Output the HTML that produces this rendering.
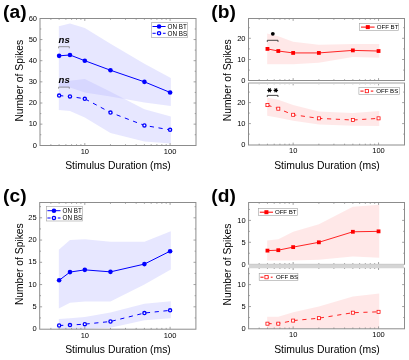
<!DOCTYPE html>
<html><head><meta charset="utf-8"><style>
html,body{margin:0;padding:0;background:#fff;}
svg{display:block;filter:blur(0.3px);font-family:"Liberation Sans", sans-serif;}
</style></head><body>
<svg width="409" height="360" viewBox="0 0 409 360">
<rect width="409" height="360" fill="#fff"/>
<polygon points="58.82,26.23 69.97,23.48 84.80,27.92 110.48,43.78 144.42,63.87 170.80,78.04 170.80,105.96 144.42,102.58 110.48,96.44 84.80,92.43 69.97,87.56 58.82,87.14" fill="#b7b7ff" fill-opacity="0.333" stroke="none"/>
<polygon points="58.82,81.85 69.97,80.79 84.80,79.10 110.48,91.79 144.42,109.34 170.80,116.54 170.80,143.40 144.42,141.49 110.48,133.03 84.80,117.38 69.97,111.04 58.82,109.98" fill="#b7b7ff" fill-opacity="0.333" stroke="none"/>
<polyline points="59.12,55.84 69.97,54.99 84.80,60.70 110.48,70.22 144.42,81.85 170.10,92.43" fill="none" stroke="#0000ff" stroke-width="1.0"/>
<polyline points="59.12,95.60 69.97,96.44 84.80,98.77 110.48,112.52 144.42,125.42 170.10,129.86" fill="none" stroke="#0000ff" stroke-width="1.0" stroke-dasharray="4.2,4.6"/>
<circle cx="59.12" cy="55.84" r="2.30" fill="#0000ff"/>
<circle cx="69.97" cy="54.99" r="2.30" fill="#0000ff"/>
<circle cx="84.80" cy="60.70" r="2.30" fill="#0000ff"/>
<circle cx="110.48" cy="70.22" r="2.30" fill="#0000ff"/>
<circle cx="144.42" cy="81.85" r="2.30" fill="#0000ff"/>
<circle cx="170.10" cy="92.43" r="2.30" fill="#0000ff"/>
<circle cx="59.12" cy="95.60" r="1.57" fill="#fff" stroke="#0000ff" stroke-width="1.35"/>
<circle cx="69.97" cy="96.44" r="1.57" fill="#fff" stroke="#0000ff" stroke-width="1.35"/>
<circle cx="84.80" cy="98.77" r="1.57" fill="#fff" stroke="#0000ff" stroke-width="1.35"/>
<circle cx="110.48" cy="112.52" r="1.57" fill="#fff" stroke="#0000ff" stroke-width="1.35"/>
<circle cx="144.42" cy="125.42" r="1.57" fill="#fff" stroke="#0000ff" stroke-width="1.35"/>
<circle cx="170.10" cy="129.86" r="1.57" fill="#fff" stroke="#0000ff" stroke-width="1.35"/>
<rect x="40.00" y="18.50" width="156.00" height="127.00" fill="none" stroke="#8c8c8c" stroke-width="1"/>
<line x1="84.80" y1="145.50" x2="84.80" y2="143.10" stroke="#8c8c8c" stroke-width="0.8"/>
<line x1="84.80" y1="18.50" x2="84.80" y2="20.90" stroke="#8c8c8c" stroke-width="0.8"/>
<line x1="170.10" y1="145.50" x2="170.10" y2="143.10" stroke="#8c8c8c" stroke-width="0.8"/>
<line x1="170.10" y1="18.50" x2="170.10" y2="20.90" stroke="#8c8c8c" stroke-width="0.8"/>
<line x1="50.86" y1="145.50" x2="50.86" y2="144.20" stroke="#8c8c8c" stroke-width="0.8"/>
<line x1="50.86" y1="18.50" x2="50.86" y2="19.80" stroke="#8c8c8c" stroke-width="0.8"/>
<line x1="59.12" y1="145.50" x2="59.12" y2="144.20" stroke="#8c8c8c" stroke-width="0.8"/>
<line x1="59.12" y1="18.50" x2="59.12" y2="19.80" stroke="#8c8c8c" stroke-width="0.8"/>
<line x1="65.88" y1="145.50" x2="65.88" y2="144.20" stroke="#8c8c8c" stroke-width="0.8"/>
<line x1="65.88" y1="18.50" x2="65.88" y2="19.80" stroke="#8c8c8c" stroke-width="0.8"/>
<line x1="71.59" y1="145.50" x2="71.59" y2="144.20" stroke="#8c8c8c" stroke-width="0.8"/>
<line x1="71.59" y1="18.50" x2="71.59" y2="19.80" stroke="#8c8c8c" stroke-width="0.8"/>
<line x1="76.54" y1="145.50" x2="76.54" y2="144.20" stroke="#8c8c8c" stroke-width="0.8"/>
<line x1="76.54" y1="18.50" x2="76.54" y2="19.80" stroke="#8c8c8c" stroke-width="0.8"/>
<line x1="80.90" y1="145.50" x2="80.90" y2="144.20" stroke="#8c8c8c" stroke-width="0.8"/>
<line x1="80.90" y1="18.50" x2="80.90" y2="19.80" stroke="#8c8c8c" stroke-width="0.8"/>
<line x1="110.48" y1="145.50" x2="110.48" y2="144.20" stroke="#8c8c8c" stroke-width="0.8"/>
<line x1="110.48" y1="18.50" x2="110.48" y2="19.80" stroke="#8c8c8c" stroke-width="0.8"/>
<line x1="125.50" y1="145.50" x2="125.50" y2="144.20" stroke="#8c8c8c" stroke-width="0.8"/>
<line x1="125.50" y1="18.50" x2="125.50" y2="19.80" stroke="#8c8c8c" stroke-width="0.8"/>
<line x1="136.16" y1="145.50" x2="136.16" y2="144.20" stroke="#8c8c8c" stroke-width="0.8"/>
<line x1="136.16" y1="18.50" x2="136.16" y2="19.80" stroke="#8c8c8c" stroke-width="0.8"/>
<line x1="144.42" y1="145.50" x2="144.42" y2="144.20" stroke="#8c8c8c" stroke-width="0.8"/>
<line x1="144.42" y1="18.50" x2="144.42" y2="19.80" stroke="#8c8c8c" stroke-width="0.8"/>
<line x1="151.18" y1="145.50" x2="151.18" y2="144.20" stroke="#8c8c8c" stroke-width="0.8"/>
<line x1="151.18" y1="18.50" x2="151.18" y2="19.80" stroke="#8c8c8c" stroke-width="0.8"/>
<line x1="156.89" y1="145.50" x2="156.89" y2="144.20" stroke="#8c8c8c" stroke-width="0.8"/>
<line x1="156.89" y1="18.50" x2="156.89" y2="19.80" stroke="#8c8c8c" stroke-width="0.8"/>
<line x1="161.84" y1="145.50" x2="161.84" y2="144.20" stroke="#8c8c8c" stroke-width="0.8"/>
<line x1="161.84" y1="18.50" x2="161.84" y2="19.80" stroke="#8c8c8c" stroke-width="0.8"/>
<line x1="166.20" y1="145.50" x2="166.20" y2="144.20" stroke="#8c8c8c" stroke-width="0.8"/>
<line x1="166.20" y1="18.50" x2="166.20" y2="19.80" stroke="#8c8c8c" stroke-width="0.8"/>
<line x1="40.00" y1="124.15" x2="42.40" y2="124.15" stroke="#8c8c8c" stroke-width="0.8"/>
<line x1="196.00" y1="124.15" x2="193.60" y2="124.15" stroke="#8c8c8c" stroke-width="0.8"/>
<line x1="40.00" y1="103.00" x2="42.40" y2="103.00" stroke="#8c8c8c" stroke-width="0.8"/>
<line x1="196.00" y1="103.00" x2="193.60" y2="103.00" stroke="#8c8c8c" stroke-width="0.8"/>
<line x1="40.00" y1="81.85" x2="42.40" y2="81.85" stroke="#8c8c8c" stroke-width="0.8"/>
<line x1="196.00" y1="81.85" x2="193.60" y2="81.85" stroke="#8c8c8c" stroke-width="0.8"/>
<line x1="40.00" y1="60.70" x2="42.40" y2="60.70" stroke="#8c8c8c" stroke-width="0.8"/>
<line x1="196.00" y1="60.70" x2="193.60" y2="60.70" stroke="#8c8c8c" stroke-width="0.8"/>
<line x1="40.00" y1="39.55" x2="42.40" y2="39.55" stroke="#8c8c8c" stroke-width="0.8"/>
<line x1="196.00" y1="39.55" x2="193.60" y2="39.55" stroke="#8c8c8c" stroke-width="0.8"/>
<line x1="40.00" y1="134.73" x2="41.30" y2="134.73" stroke="#8c8c8c" stroke-width="0.8"/>
<line x1="196.00" y1="134.73" x2="194.70" y2="134.73" stroke="#8c8c8c" stroke-width="0.8"/>
<line x1="40.00" y1="113.58" x2="41.30" y2="113.58" stroke="#8c8c8c" stroke-width="0.8"/>
<line x1="196.00" y1="113.58" x2="194.70" y2="113.58" stroke="#8c8c8c" stroke-width="0.8"/>
<line x1="40.00" y1="92.43" x2="41.30" y2="92.43" stroke="#8c8c8c" stroke-width="0.8"/>
<line x1="196.00" y1="92.43" x2="194.70" y2="92.43" stroke="#8c8c8c" stroke-width="0.8"/>
<line x1="40.00" y1="71.28" x2="41.30" y2="71.28" stroke="#8c8c8c" stroke-width="0.8"/>
<line x1="196.00" y1="71.28" x2="194.70" y2="71.28" stroke="#8c8c8c" stroke-width="0.8"/>
<line x1="40.00" y1="50.12" x2="41.30" y2="50.12" stroke="#8c8c8c" stroke-width="0.8"/>
<line x1="196.00" y1="50.12" x2="194.70" y2="50.12" stroke="#8c8c8c" stroke-width="0.8"/>
<line x1="40.00" y1="28.97" x2="41.30" y2="28.97" stroke="#8c8c8c" stroke-width="0.8"/>
<line x1="196.00" y1="28.97" x2="194.70" y2="28.97" stroke="#8c8c8c" stroke-width="0.8"/>
<text x="37.00" y="147.60" font-size="7.5" text-anchor="end" fill="#000">0</text>
<text x="37.00" y="126.45" font-size="7.5" text-anchor="end" fill="#000">10</text>
<text x="37.00" y="105.30" font-size="7.5" text-anchor="end" fill="#000">20</text>
<text x="37.00" y="84.15" font-size="7.5" text-anchor="end" fill="#000">30</text>
<text x="37.00" y="63.00" font-size="7.5" text-anchor="end" fill="#000">40</text>
<text x="37.00" y="41.85" font-size="7.5" text-anchor="end" fill="#000">50</text>
<text x="37.00" y="20.70" font-size="7.5" text-anchor="end" fill="#000">60</text>
<text x="84.80" y="153.70" font-size="7.5" text-anchor="middle" fill="#000">10</text>
<text x="170.10" y="153.70" font-size="7.5" text-anchor="middle" fill="#000">100</text>
<rect x="151.50" y="22.70" width="36.20" height="14.70" fill="#fff" stroke="#a0a0a0" stroke-width="0.6"/>
<line x1="152.50" y1="26.50" x2="165.60" y2="26.50" stroke="#0000ff" stroke-width="1"/>
<circle cx="159.05" cy="26.50" r="2.30" fill="#0000ff"/>
<text x="167.60" y="28.75" font-size="6.3" fill="#000">ON BT</text>
<line x1="152.50" y1="33.30" x2="165.60" y2="33.30" stroke="#0000ff" stroke-width="1" stroke-dasharray="3.2,2.0"/>
<circle cx="159.05" cy="33.30" r="1.62" fill="#fff" stroke="#0000ff" stroke-width="1.35"/>
<text x="167.60" y="35.55" font-size="6.3" fill="#000">ON BS</text>
<text x="58.6" y="42.8" font-size="9.6" font-weight="bold" font-style="italic" fill="#000">ns</text>
<path d="M58.60,48.30 L58.60,46.70 L69.30,46.70 L69.30,48.30" fill="none" stroke="#7a7a7a" stroke-width="0.75"/>
<text x="58.6" y="83.2" font-size="9.6" font-weight="bold" font-style="italic" fill="#000">ns</text>
<path d="M58.60,88.70 L58.60,87.10 L69.30,87.10 L69.30,88.70" fill="none" stroke="#7a7a7a" stroke-width="0.75"/>
<text x="118.00" y="168.70" font-size="10.4" text-anchor="middle" fill="#000">Stimulus Duration (ms)</text>
<text transform="translate(22.60,80.70) rotate(-90)" font-size="10.3" text-anchor="middle" fill="#000">Number of Spikes</text>
<text x="3.10" y="18.30" font-size="19.2" font-weight="bold" fill="#000">(a)</text>
<polygon points="267.15,33.42 278.30,36.18 293.15,41.69 318.86,44.66 352.85,44.02 379.25,44.02 379.25,57.80 352.85,56.96 318.86,62.68 293.15,64.16 278.30,64.16 267.15,64.16" fill="#ff0000" fill-opacity="0.092" stroke="none"/>
<polyline points="267.45,48.90 278.30,51.02 293.15,52.93 318.86,52.93 352.85,50.38 378.55,51.02" fill="none" stroke="#ff0000" stroke-width="0.85"/>
<rect x="265.55" y="47.00" width="3.80" height="3.80" fill="#ff0000"/>
<rect x="276.40" y="49.12" width="3.80" height="3.80" fill="#ff0000"/>
<rect x="291.25" y="51.03" width="3.80" height="3.80" fill="#ff0000"/>
<rect x="316.96" y="51.03" width="3.80" height="3.80" fill="#ff0000"/>
<rect x="350.95" y="48.48" width="3.80" height="3.80" fill="#ff0000"/>
<rect x="376.65" y="49.12" width="3.80" height="3.80" fill="#ff0000"/>
<rect x="248.50" y="18.50" width="156.00" height="62.00" fill="none" stroke="#8c8c8c" stroke-width="1"/>
<line x1="293.15" y1="80.50" x2="293.15" y2="78.10" stroke="#8c8c8c" stroke-width="0.8"/>
<line x1="293.15" y1="18.50" x2="293.15" y2="20.90" stroke="#8c8c8c" stroke-width="0.8"/>
<line x1="378.55" y1="80.50" x2="378.55" y2="78.10" stroke="#8c8c8c" stroke-width="0.8"/>
<line x1="378.55" y1="18.50" x2="378.55" y2="20.90" stroke="#8c8c8c" stroke-width="0.8"/>
<line x1="259.17" y1="80.50" x2="259.17" y2="79.20" stroke="#8c8c8c" stroke-width="0.8"/>
<line x1="259.17" y1="18.50" x2="259.17" y2="19.80" stroke="#8c8c8c" stroke-width="0.8"/>
<line x1="267.45" y1="80.50" x2="267.45" y2="79.20" stroke="#8c8c8c" stroke-width="0.8"/>
<line x1="267.45" y1="18.50" x2="267.45" y2="19.80" stroke="#8c8c8c" stroke-width="0.8"/>
<line x1="274.21" y1="80.50" x2="274.21" y2="79.20" stroke="#8c8c8c" stroke-width="0.8"/>
<line x1="274.21" y1="18.50" x2="274.21" y2="19.80" stroke="#8c8c8c" stroke-width="0.8"/>
<line x1="279.93" y1="80.50" x2="279.93" y2="79.20" stroke="#8c8c8c" stroke-width="0.8"/>
<line x1="279.93" y1="18.50" x2="279.93" y2="19.80" stroke="#8c8c8c" stroke-width="0.8"/>
<line x1="284.88" y1="80.50" x2="284.88" y2="79.20" stroke="#8c8c8c" stroke-width="0.8"/>
<line x1="284.88" y1="18.50" x2="284.88" y2="19.80" stroke="#8c8c8c" stroke-width="0.8"/>
<line x1="289.25" y1="80.50" x2="289.25" y2="79.20" stroke="#8c8c8c" stroke-width="0.8"/>
<line x1="289.25" y1="18.50" x2="289.25" y2="19.80" stroke="#8c8c8c" stroke-width="0.8"/>
<line x1="318.86" y1="80.50" x2="318.86" y2="79.20" stroke="#8c8c8c" stroke-width="0.8"/>
<line x1="318.86" y1="18.50" x2="318.86" y2="19.80" stroke="#8c8c8c" stroke-width="0.8"/>
<line x1="333.90" y1="80.50" x2="333.90" y2="79.20" stroke="#8c8c8c" stroke-width="0.8"/>
<line x1="333.90" y1="18.50" x2="333.90" y2="19.80" stroke="#8c8c8c" stroke-width="0.8"/>
<line x1="344.57" y1="80.50" x2="344.57" y2="79.20" stroke="#8c8c8c" stroke-width="0.8"/>
<line x1="344.57" y1="18.50" x2="344.57" y2="19.80" stroke="#8c8c8c" stroke-width="0.8"/>
<line x1="352.85" y1="80.50" x2="352.85" y2="79.20" stroke="#8c8c8c" stroke-width="0.8"/>
<line x1="352.85" y1="18.50" x2="352.85" y2="19.80" stroke="#8c8c8c" stroke-width="0.8"/>
<line x1="359.61" y1="80.50" x2="359.61" y2="79.20" stroke="#8c8c8c" stroke-width="0.8"/>
<line x1="359.61" y1="18.50" x2="359.61" y2="19.80" stroke="#8c8c8c" stroke-width="0.8"/>
<line x1="365.33" y1="80.50" x2="365.33" y2="79.20" stroke="#8c8c8c" stroke-width="0.8"/>
<line x1="365.33" y1="18.50" x2="365.33" y2="19.80" stroke="#8c8c8c" stroke-width="0.8"/>
<line x1="370.28" y1="80.50" x2="370.28" y2="79.20" stroke="#8c8c8c" stroke-width="0.8"/>
<line x1="370.28" y1="18.50" x2="370.28" y2="19.80" stroke="#8c8c8c" stroke-width="0.8"/>
<line x1="374.65" y1="80.50" x2="374.65" y2="79.20" stroke="#8c8c8c" stroke-width="0.8"/>
<line x1="374.65" y1="18.50" x2="374.65" y2="19.80" stroke="#8c8c8c" stroke-width="0.8"/>
<line x1="248.50" y1="59.50" x2="250.90" y2="59.50" stroke="#8c8c8c" stroke-width="0.8"/>
<line x1="404.50" y1="59.50" x2="402.10" y2="59.50" stroke="#8c8c8c" stroke-width="0.8"/>
<line x1="248.50" y1="38.30" x2="250.90" y2="38.30" stroke="#8c8c8c" stroke-width="0.8"/>
<line x1="404.50" y1="38.30" x2="402.10" y2="38.30" stroke="#8c8c8c" stroke-width="0.8"/>
<line x1="248.50" y1="70.10" x2="249.80" y2="70.10" stroke="#8c8c8c" stroke-width="0.8"/>
<line x1="404.50" y1="70.10" x2="403.20" y2="70.10" stroke="#8c8c8c" stroke-width="0.8"/>
<line x1="248.50" y1="48.90" x2="249.80" y2="48.90" stroke="#8c8c8c" stroke-width="0.8"/>
<line x1="404.50" y1="48.90" x2="403.20" y2="48.90" stroke="#8c8c8c" stroke-width="0.8"/>
<line x1="248.50" y1="27.70" x2="249.80" y2="27.70" stroke="#8c8c8c" stroke-width="0.8"/>
<line x1="404.50" y1="27.70" x2="403.20" y2="27.70" stroke="#8c8c8c" stroke-width="0.8"/>
<text x="245.50" y="83.15" font-size="7.5" text-anchor="end" fill="#000">0</text>
<text x="245.50" y="61.95" font-size="7.5" text-anchor="end" fill="#000">10</text>
<text x="245.50" y="40.75" font-size="7.5" text-anchor="end" fill="#000">20</text>
<polygon points="267.15,97.56 278.30,99.87 293.15,104.91 318.86,111.42 352.85,113.10 379.25,111.00 379.25,125.91 352.85,125.70 318.86,124.44 293.15,120.66 278.30,117.72 267.15,115.83" fill="#ff0000" fill-opacity="0.092" stroke="none"/>
<polyline points="267.45,105.12 278.30,108.69 293.15,114.78 318.86,118.35 352.85,120.03 378.55,118.35" fill="none" stroke="#ff0000" stroke-width="0.85" stroke-dasharray="4.2,4.6"/>
<rect x="265.92" y="103.59" width="3.05" height="3.05" fill="#fff" stroke="#ff0000" stroke-width="0.75"/>
<rect x="276.78" y="107.16" width="3.05" height="3.05" fill="#fff" stroke="#ff0000" stroke-width="0.75"/>
<rect x="291.63" y="113.25" width="3.05" height="3.05" fill="#fff" stroke="#ff0000" stroke-width="0.75"/>
<rect x="317.34" y="116.82" width="3.05" height="3.05" fill="#fff" stroke="#ff0000" stroke-width="0.75"/>
<rect x="351.32" y="118.50" width="3.05" height="3.05" fill="#fff" stroke="#ff0000" stroke-width="0.75"/>
<rect x="377.03" y="116.82" width="3.05" height="3.05" fill="#fff" stroke="#ff0000" stroke-width="0.75"/>
<rect x="248.50" y="83.00" width="156.00" height="62.00" fill="none" stroke="#8c8c8c" stroke-width="1"/>
<line x1="293.15" y1="145.00" x2="293.15" y2="142.60" stroke="#8c8c8c" stroke-width="0.8"/>
<line x1="293.15" y1="83.00" x2="293.15" y2="85.40" stroke="#8c8c8c" stroke-width="0.8"/>
<line x1="378.55" y1="145.00" x2="378.55" y2="142.60" stroke="#8c8c8c" stroke-width="0.8"/>
<line x1="378.55" y1="83.00" x2="378.55" y2="85.40" stroke="#8c8c8c" stroke-width="0.8"/>
<line x1="259.17" y1="145.00" x2="259.17" y2="143.70" stroke="#8c8c8c" stroke-width="0.8"/>
<line x1="259.17" y1="83.00" x2="259.17" y2="84.30" stroke="#8c8c8c" stroke-width="0.8"/>
<line x1="267.45" y1="145.00" x2="267.45" y2="143.70" stroke="#8c8c8c" stroke-width="0.8"/>
<line x1="267.45" y1="83.00" x2="267.45" y2="84.30" stroke="#8c8c8c" stroke-width="0.8"/>
<line x1="274.21" y1="145.00" x2="274.21" y2="143.70" stroke="#8c8c8c" stroke-width="0.8"/>
<line x1="274.21" y1="83.00" x2="274.21" y2="84.30" stroke="#8c8c8c" stroke-width="0.8"/>
<line x1="279.93" y1="145.00" x2="279.93" y2="143.70" stroke="#8c8c8c" stroke-width="0.8"/>
<line x1="279.93" y1="83.00" x2="279.93" y2="84.30" stroke="#8c8c8c" stroke-width="0.8"/>
<line x1="284.88" y1="145.00" x2="284.88" y2="143.70" stroke="#8c8c8c" stroke-width="0.8"/>
<line x1="284.88" y1="83.00" x2="284.88" y2="84.30" stroke="#8c8c8c" stroke-width="0.8"/>
<line x1="289.25" y1="145.00" x2="289.25" y2="143.70" stroke="#8c8c8c" stroke-width="0.8"/>
<line x1="289.25" y1="83.00" x2="289.25" y2="84.30" stroke="#8c8c8c" stroke-width="0.8"/>
<line x1="318.86" y1="145.00" x2="318.86" y2="143.70" stroke="#8c8c8c" stroke-width="0.8"/>
<line x1="318.86" y1="83.00" x2="318.86" y2="84.30" stroke="#8c8c8c" stroke-width="0.8"/>
<line x1="333.90" y1="145.00" x2="333.90" y2="143.70" stroke="#8c8c8c" stroke-width="0.8"/>
<line x1="333.90" y1="83.00" x2="333.90" y2="84.30" stroke="#8c8c8c" stroke-width="0.8"/>
<line x1="344.57" y1="145.00" x2="344.57" y2="143.70" stroke="#8c8c8c" stroke-width="0.8"/>
<line x1="344.57" y1="83.00" x2="344.57" y2="84.30" stroke="#8c8c8c" stroke-width="0.8"/>
<line x1="352.85" y1="145.00" x2="352.85" y2="143.70" stroke="#8c8c8c" stroke-width="0.8"/>
<line x1="352.85" y1="83.00" x2="352.85" y2="84.30" stroke="#8c8c8c" stroke-width="0.8"/>
<line x1="359.61" y1="145.00" x2="359.61" y2="143.70" stroke="#8c8c8c" stroke-width="0.8"/>
<line x1="359.61" y1="83.00" x2="359.61" y2="84.30" stroke="#8c8c8c" stroke-width="0.8"/>
<line x1="365.33" y1="145.00" x2="365.33" y2="143.70" stroke="#8c8c8c" stroke-width="0.8"/>
<line x1="365.33" y1="83.00" x2="365.33" y2="84.30" stroke="#8c8c8c" stroke-width="0.8"/>
<line x1="370.28" y1="145.00" x2="370.28" y2="143.70" stroke="#8c8c8c" stroke-width="0.8"/>
<line x1="370.28" y1="83.00" x2="370.28" y2="84.30" stroke="#8c8c8c" stroke-width="0.8"/>
<line x1="374.65" y1="145.00" x2="374.65" y2="143.70" stroke="#8c8c8c" stroke-width="0.8"/>
<line x1="374.65" y1="83.00" x2="374.65" y2="84.30" stroke="#8c8c8c" stroke-width="0.8"/>
<line x1="248.50" y1="123.60" x2="250.90" y2="123.60" stroke="#8c8c8c" stroke-width="0.8"/>
<line x1="404.50" y1="123.60" x2="402.10" y2="123.60" stroke="#8c8c8c" stroke-width="0.8"/>
<line x1="248.50" y1="102.60" x2="250.90" y2="102.60" stroke="#8c8c8c" stroke-width="0.8"/>
<line x1="404.50" y1="102.60" x2="402.10" y2="102.60" stroke="#8c8c8c" stroke-width="0.8"/>
<line x1="248.50" y1="134.10" x2="249.80" y2="134.10" stroke="#8c8c8c" stroke-width="0.8"/>
<line x1="404.50" y1="134.10" x2="403.20" y2="134.10" stroke="#8c8c8c" stroke-width="0.8"/>
<line x1="248.50" y1="113.10" x2="249.80" y2="113.10" stroke="#8c8c8c" stroke-width="0.8"/>
<line x1="404.50" y1="113.10" x2="403.20" y2="113.10" stroke="#8c8c8c" stroke-width="0.8"/>
<line x1="248.50" y1="92.10" x2="249.80" y2="92.10" stroke="#8c8c8c" stroke-width="0.8"/>
<line x1="404.50" y1="92.10" x2="403.20" y2="92.10" stroke="#8c8c8c" stroke-width="0.8"/>
<text x="245.50" y="147.05" font-size="7.5" text-anchor="end" fill="#000">0</text>
<text x="245.50" y="126.05" font-size="7.5" text-anchor="end" fill="#000">10</text>
<text x="245.50" y="105.05" font-size="7.5" text-anchor="end" fill="#000">20</text>
<text x="293.15" y="153.45" font-size="7.5" text-anchor="middle" fill="#000">10</text>
<text x="378.55" y="153.45" font-size="7.5" text-anchor="middle" fill="#000">100</text>
<rect x="247.5" y="81.2" width="158" height="1.0" fill="#fff"/>
<rect x="248.9" y="82.0" width="155.2" height="2.0" fill="#cfcfcf"/>
<rect x="359.40" y="23.60" width="39.30" height="6.90" fill="#fff" stroke="#a0a0a0" stroke-width="0.6"/>
<line x1="361.00" y1="27.10" x2="374.60" y2="27.10" stroke="#ff0000" stroke-width="1"/>
<rect x="365.80" y="25.10" width="4.00" height="4.00" fill="#ff0000"/>
<text x="376.70" y="29.35" font-size="6.1" fill="#000">OFF BT</text>
<rect x="358.90" y="87.60" width="40.50" height="6.90" fill="#fff" stroke="#a0a0a0" stroke-width="0.6"/>
<line x1="360.40" y1="91.10" x2="373.30" y2="91.10" stroke="#ff0000" stroke-width="1" stroke-dasharray="3.2,2.0"/>
<rect x="365.22" y="89.47" width="3.25" height="3.25" fill="#fff" stroke="#ff0000" stroke-width="0.75"/>
<text x="376.20" y="93.35" font-size="6.1" fill="#000">OFF BS</text>
<circle cx="272.8" cy="33.8" r="1.9" fill="#000"/>
<path d="M267.30,41.90 L267.30,40.30 L278.00,40.30 L278.00,41.90" fill="none" stroke="#333333" stroke-width="0.9"/>
<path d="M267.75,90.30 L271.25,90.30 M268.62,88.78 L270.38,91.82 M270.38,88.78 L268.62,91.82" stroke="#000" stroke-width="1.2" stroke-linecap="round" fill="none"/>
<path d="M274.05,90.30 L277.55,90.30 M274.93,88.78 L276.68,91.82 M276.68,88.78 L274.93,91.82" stroke="#000" stroke-width="1.2" stroke-linecap="round" fill="none"/>
<path d="M267.30,97.00 L267.30,95.40 L278.00,95.40 L278.00,97.00" fill="none" stroke="#333333" stroke-width="0.9"/>
<text x="327.00" y="168.70" font-size="10.4" text-anchor="middle" fill="#000">Stimulus Duration (ms)</text>
<text transform="translate(231.10,80.30) rotate(-90)" font-size="10.3" text-anchor="middle" fill="#000">Number of Spikes</text>
<text x="211.30" y="18.30" font-size="19.2" font-weight="bold" fill="#000">(b)</text>
<polygon points="58.82,249.84 69.97,240.05 84.80,239.16 110.48,241.83 144.42,241.83 170.80,231.15 170.80,269.42 144.42,284.55 110.48,301.46 84.80,301.46 69.97,302.80 58.82,308.58" fill="#b7b7ff" fill-opacity="0.333" stroke="none"/>
<polygon points="58.82,319.04 69.97,318.15 84.80,317.04 110.48,312.59 144.42,303.69 170.80,301.24 170.80,318.37 144.42,320.15 110.48,327.72 84.80,329.05 69.97,329.05 58.82,329.05" fill="#b7b7ff" fill-opacity="0.333" stroke="none"/>
<polyline points="59.12,280.32 69.97,272.09 84.80,269.87 110.48,271.87 144.42,264.08 170.10,251.18" fill="none" stroke="#0000ff" stroke-width="1.0"/>
<polyline points="59.12,325.49 69.97,325.05 84.80,324.16 110.48,321.49 144.42,313.03 170.10,310.36" fill="none" stroke="#0000ff" stroke-width="1.0" stroke-dasharray="4.2,4.6"/>
<circle cx="59.12" cy="280.32" r="2.30" fill="#0000ff"/>
<circle cx="69.97" cy="272.09" r="2.30" fill="#0000ff"/>
<circle cx="84.80" cy="269.87" r="2.30" fill="#0000ff"/>
<circle cx="110.48" cy="271.87" r="2.30" fill="#0000ff"/>
<circle cx="144.42" cy="264.08" r="2.30" fill="#0000ff"/>
<circle cx="170.10" cy="251.18" r="2.30" fill="#0000ff"/>
<circle cx="59.12" cy="325.49" r="1.57" fill="#fff" stroke="#0000ff" stroke-width="1.35"/>
<circle cx="69.97" cy="325.05" r="1.57" fill="#fff" stroke="#0000ff" stroke-width="1.35"/>
<circle cx="84.80" cy="324.16" r="1.57" fill="#fff" stroke="#0000ff" stroke-width="1.35"/>
<circle cx="110.48" cy="321.49" r="1.57" fill="#fff" stroke="#0000ff" stroke-width="1.35"/>
<circle cx="144.42" cy="313.03" r="1.57" fill="#fff" stroke="#0000ff" stroke-width="1.35"/>
<circle cx="170.10" cy="310.36" r="1.57" fill="#fff" stroke="#0000ff" stroke-width="1.35"/>
<rect x="39.70" y="202.50" width="156.20" height="126.70" fill="none" stroke="#8c8c8c" stroke-width="1"/>
<line x1="84.80" y1="329.20" x2="84.80" y2="326.80" stroke="#8c8c8c" stroke-width="0.8"/>
<line x1="84.80" y1="202.50" x2="84.80" y2="204.90" stroke="#8c8c8c" stroke-width="0.8"/>
<line x1="170.10" y1="329.20" x2="170.10" y2="326.80" stroke="#8c8c8c" stroke-width="0.8"/>
<line x1="170.10" y1="202.50" x2="170.10" y2="204.90" stroke="#8c8c8c" stroke-width="0.8"/>
<line x1="50.86" y1="329.20" x2="50.86" y2="327.90" stroke="#8c8c8c" stroke-width="0.8"/>
<line x1="50.86" y1="202.50" x2="50.86" y2="203.80" stroke="#8c8c8c" stroke-width="0.8"/>
<line x1="59.12" y1="329.20" x2="59.12" y2="327.90" stroke="#8c8c8c" stroke-width="0.8"/>
<line x1="59.12" y1="202.50" x2="59.12" y2="203.80" stroke="#8c8c8c" stroke-width="0.8"/>
<line x1="65.88" y1="329.20" x2="65.88" y2="327.90" stroke="#8c8c8c" stroke-width="0.8"/>
<line x1="65.88" y1="202.50" x2="65.88" y2="203.80" stroke="#8c8c8c" stroke-width="0.8"/>
<line x1="71.59" y1="329.20" x2="71.59" y2="327.90" stroke="#8c8c8c" stroke-width="0.8"/>
<line x1="71.59" y1="202.50" x2="71.59" y2="203.80" stroke="#8c8c8c" stroke-width="0.8"/>
<line x1="76.54" y1="329.20" x2="76.54" y2="327.90" stroke="#8c8c8c" stroke-width="0.8"/>
<line x1="76.54" y1="202.50" x2="76.54" y2="203.80" stroke="#8c8c8c" stroke-width="0.8"/>
<line x1="80.90" y1="329.20" x2="80.90" y2="327.90" stroke="#8c8c8c" stroke-width="0.8"/>
<line x1="80.90" y1="202.50" x2="80.90" y2="203.80" stroke="#8c8c8c" stroke-width="0.8"/>
<line x1="110.48" y1="329.20" x2="110.48" y2="327.90" stroke="#8c8c8c" stroke-width="0.8"/>
<line x1="110.48" y1="202.50" x2="110.48" y2="203.80" stroke="#8c8c8c" stroke-width="0.8"/>
<line x1="125.50" y1="329.20" x2="125.50" y2="327.90" stroke="#8c8c8c" stroke-width="0.8"/>
<line x1="125.50" y1="202.50" x2="125.50" y2="203.80" stroke="#8c8c8c" stroke-width="0.8"/>
<line x1="136.16" y1="329.20" x2="136.16" y2="327.90" stroke="#8c8c8c" stroke-width="0.8"/>
<line x1="136.16" y1="202.50" x2="136.16" y2="203.80" stroke="#8c8c8c" stroke-width="0.8"/>
<line x1="144.42" y1="329.20" x2="144.42" y2="327.90" stroke="#8c8c8c" stroke-width="0.8"/>
<line x1="144.42" y1="202.50" x2="144.42" y2="203.80" stroke="#8c8c8c" stroke-width="0.8"/>
<line x1="151.18" y1="329.20" x2="151.18" y2="327.90" stroke="#8c8c8c" stroke-width="0.8"/>
<line x1="151.18" y1="202.50" x2="151.18" y2="203.80" stroke="#8c8c8c" stroke-width="0.8"/>
<line x1="156.89" y1="329.20" x2="156.89" y2="327.90" stroke="#8c8c8c" stroke-width="0.8"/>
<line x1="156.89" y1="202.50" x2="156.89" y2="203.80" stroke="#8c8c8c" stroke-width="0.8"/>
<line x1="161.84" y1="329.20" x2="161.84" y2="327.90" stroke="#8c8c8c" stroke-width="0.8"/>
<line x1="161.84" y1="202.50" x2="161.84" y2="203.80" stroke="#8c8c8c" stroke-width="0.8"/>
<line x1="166.20" y1="329.20" x2="166.20" y2="327.90" stroke="#8c8c8c" stroke-width="0.8"/>
<line x1="166.20" y1="202.50" x2="166.20" y2="203.80" stroke="#8c8c8c" stroke-width="0.8"/>
<line x1="39.70" y1="306.80" x2="42.10" y2="306.80" stroke="#8c8c8c" stroke-width="0.8"/>
<line x1="195.90" y1="306.80" x2="193.50" y2="306.80" stroke="#8c8c8c" stroke-width="0.8"/>
<line x1="39.70" y1="284.55" x2="42.10" y2="284.55" stroke="#8c8c8c" stroke-width="0.8"/>
<line x1="195.90" y1="284.55" x2="193.50" y2="284.55" stroke="#8c8c8c" stroke-width="0.8"/>
<line x1="39.70" y1="262.30" x2="42.10" y2="262.30" stroke="#8c8c8c" stroke-width="0.8"/>
<line x1="195.90" y1="262.30" x2="193.50" y2="262.30" stroke="#8c8c8c" stroke-width="0.8"/>
<line x1="39.70" y1="240.05" x2="42.10" y2="240.05" stroke="#8c8c8c" stroke-width="0.8"/>
<line x1="195.90" y1="240.05" x2="193.50" y2="240.05" stroke="#8c8c8c" stroke-width="0.8"/>
<line x1="39.70" y1="217.80" x2="42.10" y2="217.80" stroke="#8c8c8c" stroke-width="0.8"/>
<line x1="195.90" y1="217.80" x2="193.50" y2="217.80" stroke="#8c8c8c" stroke-width="0.8"/>
<line x1="39.70" y1="317.93" x2="41.00" y2="317.93" stroke="#8c8c8c" stroke-width="0.8"/>
<line x1="195.90" y1="317.93" x2="194.60" y2="317.93" stroke="#8c8c8c" stroke-width="0.8"/>
<line x1="39.70" y1="295.68" x2="41.00" y2="295.68" stroke="#8c8c8c" stroke-width="0.8"/>
<line x1="195.90" y1="295.68" x2="194.60" y2="295.68" stroke="#8c8c8c" stroke-width="0.8"/>
<line x1="39.70" y1="273.43" x2="41.00" y2="273.43" stroke="#8c8c8c" stroke-width="0.8"/>
<line x1="195.90" y1="273.43" x2="194.60" y2="273.43" stroke="#8c8c8c" stroke-width="0.8"/>
<line x1="39.70" y1="251.18" x2="41.00" y2="251.18" stroke="#8c8c8c" stroke-width="0.8"/>
<line x1="195.90" y1="251.18" x2="194.60" y2="251.18" stroke="#8c8c8c" stroke-width="0.8"/>
<line x1="39.70" y1="228.93" x2="41.00" y2="228.93" stroke="#8c8c8c" stroke-width="0.8"/>
<line x1="195.90" y1="228.93" x2="194.60" y2="228.93" stroke="#8c8c8c" stroke-width="0.8"/>
<line x1="39.70" y1="206.68" x2="41.00" y2="206.68" stroke="#8c8c8c" stroke-width="0.8"/>
<line x1="195.90" y1="206.68" x2="194.60" y2="206.68" stroke="#8c8c8c" stroke-width="0.8"/>
<text x="36.70" y="331.05" font-size="7.5" text-anchor="end" fill="#000">0</text>
<text x="36.70" y="308.80" font-size="7.5" text-anchor="end" fill="#000">5</text>
<text x="36.70" y="286.55" font-size="7.5" text-anchor="end" fill="#000">10</text>
<text x="36.70" y="264.30" font-size="7.5" text-anchor="end" fill="#000">15</text>
<text x="36.70" y="242.05" font-size="7.5" text-anchor="end" fill="#000">20</text>
<text x="36.70" y="219.80" font-size="7.5" text-anchor="end" fill="#000">25</text>
<text x="84.80" y="337.60" font-size="7.5" text-anchor="middle" fill="#000">10</text>
<text x="170.10" y="337.60" font-size="7.5" text-anchor="middle" fill="#000">100</text>
<rect x="46.40" y="206.40" width="36.10" height="14.60" fill="#fff" stroke="#a0a0a0" stroke-width="0.6"/>
<line x1="47.40" y1="210.70" x2="60.50" y2="210.70" stroke="#0000ff" stroke-width="1"/>
<circle cx="53.95" cy="210.70" r="2.30" fill="#0000ff"/>
<text x="62.50" y="212.95" font-size="6.3" fill="#000">ON BT</text>
<line x1="47.40" y1="218.00" x2="60.50" y2="218.00" stroke="#0000ff" stroke-width="1" stroke-dasharray="3.2,2.0"/>
<circle cx="53.95" cy="218.00" r="1.62" fill="#fff" stroke="#0000ff" stroke-width="1.35"/>
<text x="62.50" y="220.25" font-size="6.3" fill="#000">ON BS</text>
<text x="118.00" y="352.60" font-size="10.4" text-anchor="middle" fill="#000">Stimulus Duration (ms)</text>
<text transform="translate(22.70,264.20) rotate(-90)" font-size="10.3" text-anchor="middle" fill="#000">Number of Spikes</text>
<text x="3.10" y="202.10" font-size="19.2" font-weight="bold" fill="#000">(c)</text>
<polygon points="267.15,240.55 278.30,239.23 293.15,231.79 318.86,224.34 352.85,206.82 379.25,204.63 379.25,257.85 352.85,256.53 318.86,259.82 293.15,260.48 278.30,260.48 267.15,260.48" fill="#ff0000" fill-opacity="0.092" stroke="none"/>
<polyline points="267.45,250.62 278.30,250.18 293.15,247.12 318.86,242.30 352.85,231.79 378.55,231.35" fill="none" stroke="#ff0000" stroke-width="0.85"/>
<rect x="265.55" y="248.72" width="3.80" height="3.80" fill="#ff0000"/>
<rect x="276.40" y="248.28" width="3.80" height="3.80" fill="#ff0000"/>
<rect x="291.25" y="245.22" width="3.80" height="3.80" fill="#ff0000"/>
<rect x="316.96" y="240.40" width="3.80" height="3.80" fill="#ff0000"/>
<rect x="350.95" y="229.89" width="3.80" height="3.80" fill="#ff0000"/>
<rect x="376.65" y="229.45" width="3.80" height="3.80" fill="#ff0000"/>
<rect x="248.60" y="202.50" width="155.90" height="61.90" fill="none" stroke="#8c8c8c" stroke-width="1"/>
<line x1="293.15" y1="264.40" x2="293.15" y2="262.00" stroke="#8c8c8c" stroke-width="0.8"/>
<line x1="293.15" y1="202.50" x2="293.15" y2="204.90" stroke="#8c8c8c" stroke-width="0.8"/>
<line x1="378.55" y1="264.40" x2="378.55" y2="262.00" stroke="#8c8c8c" stroke-width="0.8"/>
<line x1="378.55" y1="202.50" x2="378.55" y2="204.90" stroke="#8c8c8c" stroke-width="0.8"/>
<line x1="259.17" y1="264.40" x2="259.17" y2="263.10" stroke="#8c8c8c" stroke-width="0.8"/>
<line x1="259.17" y1="202.50" x2="259.17" y2="203.80" stroke="#8c8c8c" stroke-width="0.8"/>
<line x1="267.45" y1="264.40" x2="267.45" y2="263.10" stroke="#8c8c8c" stroke-width="0.8"/>
<line x1="267.45" y1="202.50" x2="267.45" y2="203.80" stroke="#8c8c8c" stroke-width="0.8"/>
<line x1="274.21" y1="264.40" x2="274.21" y2="263.10" stroke="#8c8c8c" stroke-width="0.8"/>
<line x1="274.21" y1="202.50" x2="274.21" y2="203.80" stroke="#8c8c8c" stroke-width="0.8"/>
<line x1="279.93" y1="264.40" x2="279.93" y2="263.10" stroke="#8c8c8c" stroke-width="0.8"/>
<line x1="279.93" y1="202.50" x2="279.93" y2="203.80" stroke="#8c8c8c" stroke-width="0.8"/>
<line x1="284.88" y1="264.40" x2="284.88" y2="263.10" stroke="#8c8c8c" stroke-width="0.8"/>
<line x1="284.88" y1="202.50" x2="284.88" y2="203.80" stroke="#8c8c8c" stroke-width="0.8"/>
<line x1="289.25" y1="264.40" x2="289.25" y2="263.10" stroke="#8c8c8c" stroke-width="0.8"/>
<line x1="289.25" y1="202.50" x2="289.25" y2="203.80" stroke="#8c8c8c" stroke-width="0.8"/>
<line x1="318.86" y1="264.40" x2="318.86" y2="263.10" stroke="#8c8c8c" stroke-width="0.8"/>
<line x1="318.86" y1="202.50" x2="318.86" y2="203.80" stroke="#8c8c8c" stroke-width="0.8"/>
<line x1="333.90" y1="264.40" x2="333.90" y2="263.10" stroke="#8c8c8c" stroke-width="0.8"/>
<line x1="333.90" y1="202.50" x2="333.90" y2="203.80" stroke="#8c8c8c" stroke-width="0.8"/>
<line x1="344.57" y1="264.40" x2="344.57" y2="263.10" stroke="#8c8c8c" stroke-width="0.8"/>
<line x1="344.57" y1="202.50" x2="344.57" y2="203.80" stroke="#8c8c8c" stroke-width="0.8"/>
<line x1="352.85" y1="264.40" x2="352.85" y2="263.10" stroke="#8c8c8c" stroke-width="0.8"/>
<line x1="352.85" y1="202.50" x2="352.85" y2="203.80" stroke="#8c8c8c" stroke-width="0.8"/>
<line x1="359.61" y1="264.40" x2="359.61" y2="263.10" stroke="#8c8c8c" stroke-width="0.8"/>
<line x1="359.61" y1="202.50" x2="359.61" y2="203.80" stroke="#8c8c8c" stroke-width="0.8"/>
<line x1="365.33" y1="264.40" x2="365.33" y2="263.10" stroke="#8c8c8c" stroke-width="0.8"/>
<line x1="365.33" y1="202.50" x2="365.33" y2="203.80" stroke="#8c8c8c" stroke-width="0.8"/>
<line x1="370.28" y1="264.40" x2="370.28" y2="263.10" stroke="#8c8c8c" stroke-width="0.8"/>
<line x1="370.28" y1="202.50" x2="370.28" y2="203.80" stroke="#8c8c8c" stroke-width="0.8"/>
<line x1="374.65" y1="264.40" x2="374.65" y2="263.10" stroke="#8c8c8c" stroke-width="0.8"/>
<line x1="374.65" y1="202.50" x2="374.65" y2="203.80" stroke="#8c8c8c" stroke-width="0.8"/>
<line x1="248.60" y1="242.30" x2="251.00" y2="242.30" stroke="#8c8c8c" stroke-width="0.8"/>
<line x1="404.50" y1="242.30" x2="402.10" y2="242.30" stroke="#8c8c8c" stroke-width="0.8"/>
<line x1="248.60" y1="220.40" x2="251.00" y2="220.40" stroke="#8c8c8c" stroke-width="0.8"/>
<line x1="404.50" y1="220.40" x2="402.10" y2="220.40" stroke="#8c8c8c" stroke-width="0.8"/>
<line x1="248.60" y1="253.25" x2="249.90" y2="253.25" stroke="#8c8c8c" stroke-width="0.8"/>
<line x1="404.50" y1="253.25" x2="403.20" y2="253.25" stroke="#8c8c8c" stroke-width="0.8"/>
<line x1="248.60" y1="231.35" x2="249.90" y2="231.35" stroke="#8c8c8c" stroke-width="0.8"/>
<line x1="404.50" y1="231.35" x2="403.20" y2="231.35" stroke="#8c8c8c" stroke-width="0.8"/>
<line x1="248.60" y1="209.45" x2="249.90" y2="209.45" stroke="#8c8c8c" stroke-width="0.8"/>
<line x1="404.50" y1="209.45" x2="403.20" y2="209.45" stroke="#8c8c8c" stroke-width="0.8"/>
<text x="245.60" y="266.90" font-size="7.5" text-anchor="end" fill="#000">0</text>
<text x="245.60" y="245.00" font-size="7.5" text-anchor="end" fill="#000">5</text>
<text x="245.60" y="223.10" font-size="7.5" text-anchor="end" fill="#000">10</text>
<polygon points="267.15,316.65 278.30,316.65 293.15,312.26 318.86,306.55 352.85,296.45 379.25,293.38 379.25,328.50 352.85,328.50 318.86,328.50 293.15,328.50 278.30,328.50 267.15,328.50" fill="#ff0000" fill-opacity="0.092" stroke="none"/>
<polyline points="267.45,323.67 278.30,323.67 293.15,320.60 318.86,318.18 352.85,312.70 378.55,311.82" fill="none" stroke="#ff0000" stroke-width="0.85" stroke-dasharray="4.2,4.6"/>
<rect x="265.92" y="322.15" width="3.05" height="3.05" fill="#fff" stroke="#ff0000" stroke-width="0.75"/>
<rect x="276.78" y="322.15" width="3.05" height="3.05" fill="#fff" stroke="#ff0000" stroke-width="0.75"/>
<rect x="291.63" y="319.07" width="3.05" height="3.05" fill="#fff" stroke="#ff0000" stroke-width="0.75"/>
<rect x="317.34" y="316.66" width="3.05" height="3.05" fill="#fff" stroke="#ff0000" stroke-width="0.75"/>
<rect x="351.32" y="311.17" width="3.05" height="3.05" fill="#fff" stroke="#ff0000" stroke-width="0.75"/>
<rect x="377.03" y="310.29" width="3.05" height="3.05" fill="#fff" stroke="#ff0000" stroke-width="0.75"/>
<rect x="248.60" y="267.60" width="155.90" height="61.20" fill="none" stroke="#8c8c8c" stroke-width="1"/>
<line x1="293.15" y1="328.80" x2="293.15" y2="326.40" stroke="#8c8c8c" stroke-width="0.8"/>
<line x1="293.15" y1="267.60" x2="293.15" y2="270.00" stroke="#8c8c8c" stroke-width="0.8"/>
<line x1="378.55" y1="328.80" x2="378.55" y2="326.40" stroke="#8c8c8c" stroke-width="0.8"/>
<line x1="378.55" y1="267.60" x2="378.55" y2="270.00" stroke="#8c8c8c" stroke-width="0.8"/>
<line x1="259.17" y1="328.80" x2="259.17" y2="327.50" stroke="#8c8c8c" stroke-width="0.8"/>
<line x1="259.17" y1="267.60" x2="259.17" y2="268.90" stroke="#8c8c8c" stroke-width="0.8"/>
<line x1="267.45" y1="328.80" x2="267.45" y2="327.50" stroke="#8c8c8c" stroke-width="0.8"/>
<line x1="267.45" y1="267.60" x2="267.45" y2="268.90" stroke="#8c8c8c" stroke-width="0.8"/>
<line x1="274.21" y1="328.80" x2="274.21" y2="327.50" stroke="#8c8c8c" stroke-width="0.8"/>
<line x1="274.21" y1="267.60" x2="274.21" y2="268.90" stroke="#8c8c8c" stroke-width="0.8"/>
<line x1="279.93" y1="328.80" x2="279.93" y2="327.50" stroke="#8c8c8c" stroke-width="0.8"/>
<line x1="279.93" y1="267.60" x2="279.93" y2="268.90" stroke="#8c8c8c" stroke-width="0.8"/>
<line x1="284.88" y1="328.80" x2="284.88" y2="327.50" stroke="#8c8c8c" stroke-width="0.8"/>
<line x1="284.88" y1="267.60" x2="284.88" y2="268.90" stroke="#8c8c8c" stroke-width="0.8"/>
<line x1="289.25" y1="328.80" x2="289.25" y2="327.50" stroke="#8c8c8c" stroke-width="0.8"/>
<line x1="289.25" y1="267.60" x2="289.25" y2="268.90" stroke="#8c8c8c" stroke-width="0.8"/>
<line x1="318.86" y1="328.80" x2="318.86" y2="327.50" stroke="#8c8c8c" stroke-width="0.8"/>
<line x1="318.86" y1="267.60" x2="318.86" y2="268.90" stroke="#8c8c8c" stroke-width="0.8"/>
<line x1="333.90" y1="328.80" x2="333.90" y2="327.50" stroke="#8c8c8c" stroke-width="0.8"/>
<line x1="333.90" y1="267.60" x2="333.90" y2="268.90" stroke="#8c8c8c" stroke-width="0.8"/>
<line x1="344.57" y1="328.80" x2="344.57" y2="327.50" stroke="#8c8c8c" stroke-width="0.8"/>
<line x1="344.57" y1="267.60" x2="344.57" y2="268.90" stroke="#8c8c8c" stroke-width="0.8"/>
<line x1="352.85" y1="328.80" x2="352.85" y2="327.50" stroke="#8c8c8c" stroke-width="0.8"/>
<line x1="352.85" y1="267.60" x2="352.85" y2="268.90" stroke="#8c8c8c" stroke-width="0.8"/>
<line x1="359.61" y1="328.80" x2="359.61" y2="327.50" stroke="#8c8c8c" stroke-width="0.8"/>
<line x1="359.61" y1="267.60" x2="359.61" y2="268.90" stroke="#8c8c8c" stroke-width="0.8"/>
<line x1="365.33" y1="328.80" x2="365.33" y2="327.50" stroke="#8c8c8c" stroke-width="0.8"/>
<line x1="365.33" y1="267.60" x2="365.33" y2="268.90" stroke="#8c8c8c" stroke-width="0.8"/>
<line x1="370.28" y1="328.80" x2="370.28" y2="327.50" stroke="#8c8c8c" stroke-width="0.8"/>
<line x1="370.28" y1="267.60" x2="370.28" y2="268.90" stroke="#8c8c8c" stroke-width="0.8"/>
<line x1="374.65" y1="328.80" x2="374.65" y2="327.50" stroke="#8c8c8c" stroke-width="0.8"/>
<line x1="374.65" y1="267.60" x2="374.65" y2="268.90" stroke="#8c8c8c" stroke-width="0.8"/>
<line x1="248.60" y1="306.55" x2="251.00" y2="306.55" stroke="#8c8c8c" stroke-width="0.8"/>
<line x1="404.50" y1="306.55" x2="402.10" y2="306.55" stroke="#8c8c8c" stroke-width="0.8"/>
<line x1="248.60" y1="284.60" x2="251.00" y2="284.60" stroke="#8c8c8c" stroke-width="0.8"/>
<line x1="404.50" y1="284.60" x2="402.10" y2="284.60" stroke="#8c8c8c" stroke-width="0.8"/>
<line x1="248.60" y1="317.52" x2="249.90" y2="317.52" stroke="#8c8c8c" stroke-width="0.8"/>
<line x1="404.50" y1="317.52" x2="403.20" y2="317.52" stroke="#8c8c8c" stroke-width="0.8"/>
<line x1="248.60" y1="295.57" x2="249.90" y2="295.57" stroke="#8c8c8c" stroke-width="0.8"/>
<line x1="404.50" y1="295.57" x2="403.20" y2="295.57" stroke="#8c8c8c" stroke-width="0.8"/>
<line x1="248.60" y1="273.62" x2="249.90" y2="273.62" stroke="#8c8c8c" stroke-width="0.8"/>
<line x1="404.50" y1="273.62" x2="403.20" y2="273.62" stroke="#8c8c8c" stroke-width="0.8"/>
<text x="245.60" y="331.20" font-size="7.5" text-anchor="end" fill="#000">0</text>
<text x="245.60" y="309.25" font-size="7.5" text-anchor="end" fill="#000">5</text>
<text x="245.60" y="287.30" font-size="7.5" text-anchor="end" fill="#000">10</text>
<text x="293.15" y="337.45" font-size="7.5" text-anchor="middle" fill="#000">10</text>
<text x="378.55" y="337.45" font-size="7.5" text-anchor="middle" fill="#000">100</text>
<rect x="247.5" y="264.8" width="158" height="2.8" fill="#fff"/>
<rect x="248.9" y="264.2" width="154.9" height="3.8" fill="#d5d5d5"/>
<rect x="258.30" y="208.50" width="39.10" height="7.00" fill="#fff" stroke="#a0a0a0" stroke-width="0.6"/>
<line x1="259.80" y1="212.20" x2="273.00" y2="212.20" stroke="#ff0000" stroke-width="1"/>
<rect x="264.40" y="210.20" width="4.00" height="4.00" fill="#ff0000"/>
<text x="274.90" y="214.45" font-size="6.1" fill="#000">OFF BT</text>
<rect x="259.20" y="273.50" width="38.70" height="7.00" fill="#fff" stroke="#a0a0a0" stroke-width="0.6"/>
<line x1="260.40" y1="277.20" x2="272.60" y2="277.20" stroke="#ff0000" stroke-width="1" stroke-dasharray="3.2,2.0"/>
<rect x="264.88" y="275.57" width="3.25" height="3.25" fill="#fff" stroke="#ff0000" stroke-width="0.75"/>
<text x="276.10" y="279.45" font-size="6.1" fill="#000">OFF BS</text>
<text x="327.00" y="352.50" font-size="10.4" text-anchor="middle" fill="#000">Stimulus Duration (ms)</text>
<text transform="translate(231.40,264.60) rotate(-90)" font-size="10.3" text-anchor="middle" fill="#000">Number of Spikes</text>
<text x="211.30" y="202.10" font-size="19.2" font-weight="bold" fill="#000">(d)</text>
</svg>
</body></html>
